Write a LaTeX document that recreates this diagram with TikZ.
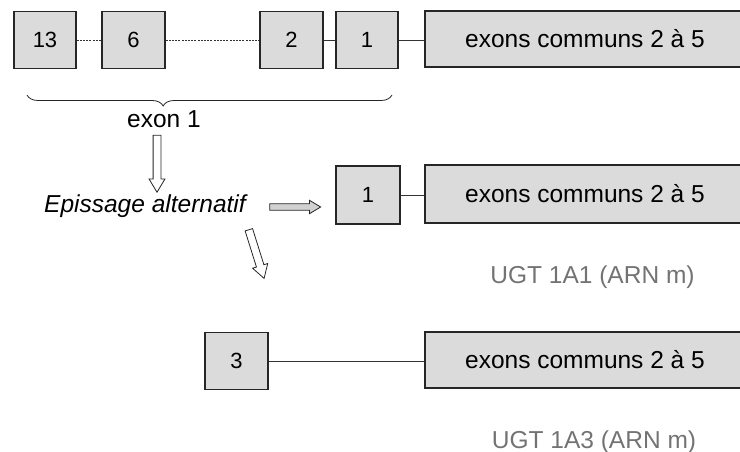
\documentclass[tikz,border=0pt]{standalone}
\usepackage{fontspec}
\setmainfont{Liberation Sans}
\usetikzlibrary{shapes.arrows,decorations.pathreplacing}
\begin{document}
\begin{tikzpicture}[x=1pt,y=-1pt,
  exon/.style={draw=black!85, line width=1.2pt, fill=black!14, inner sep=0pt,
    font=\fontsize{22}{26}\selectfont},
  bigexon/.style={exon, minimum width=320pt, font=\fontsize{24.5}{28}\selectfont},
  hollow/.style={single arrow, draw=black!85, fill=white, line width=0.8pt,
    inner xsep=0pt, minimum width=0pt, single arrow tip angle=62},
  lbl/.style={font=\fontsize{24.5}{28}\selectfont, inner sep=0pt, anchor=base},
  ugt/.style={lbl, text=black!55},
  link/.style={line width=0.9pt, draw=black!80},
  dlink/.style={link, dash pattern=on 2pt off 1.2pt}]
\useasboundingbox (0,0) rectangle (740,452);
\clip (0,0) rectangle (740,452);
% row 1
\node[exon, minimum width=62pt, minimum height=57pt] (a13) at (45,40) {13};
\node[exon, minimum width=63pt, minimum height=57pt] (a6) at (133.5,40) {6};
\node[exon, minimum width=63pt, minimum height=57pt] (a2) at (291.5,40) {2};
\node[exon, minimum width=62pt, minimum height=57pt] (a1) at (367,40) {1};
\node[bigexon, minimum height=56pt] (acom) at (585,39) {exons communs 2 à 5};
\draw[dlink] (a13) -- (a6);
\draw[dlink] (a6) -- (a2);
\draw[link] (a2) -- (a1);
\draw[link] (a1.east) -- (a1.east -| acom.west);
% brace
\coordinate (brL) at (27,95);
\coordinate (brR) at (392,95);
\draw[decorate, decoration={brace, mirror, amplitude=11pt, aspect=0.373},
  line width=0.8pt, black!85] (brL) -- (brR);
\node[lbl] (exon1) at (164,128) {exon 1};
\node[lbl, font=\fontsize{24.5}{28}\selectfont\itshape] (epis) at (145,212) {Epissage alternatif};
% hollow arrows
\node[hollow, minimum height=57pt, inner ysep=3.5pt, single arrow head extend=4pt,
  rotate=-90] (arrD) at (157,160.5) {};
\node[hollow, fill=black!18, minimum height=51pt, inner ysep=2.8pt, single arrow head extend=3.5pt]
  (arrR) at (292.5,207) {};
\node[hollow, minimum height=51pt, inner ysep=3.5pt, single arrow head extend=4pt,
  rotate=-72.6] (arrS) at (255.5,251) {};
% row 2
\node[exon, minimum width=64pt, minimum height=58pt] (b1) at (368,195) {1};
\node[bigexon, minimum height=58pt] (bcom) at (585,194) {exons communs 2 à 5};
\draw[link] (b1.east) -- (b1.east -| bcom.west);
\node[ugt] (ugt1) at (592.5,283) {UGT 1A1 (ARN m)};
% row 3
\node[exon, minimum width=63pt, minimum height=57pt] (c3) at (236.5,361) {3};
\node[bigexon, minimum height=56pt] (ccom) at (585,360) {exons communs 2 à 5};
\draw[link] (c3.east) -- (c3.east -| ccom.west);
\node[ugt] (ugt3) at (594,448) {UGT 1A3 (ARN m)};
\end{tikzpicture}
\end{document}
